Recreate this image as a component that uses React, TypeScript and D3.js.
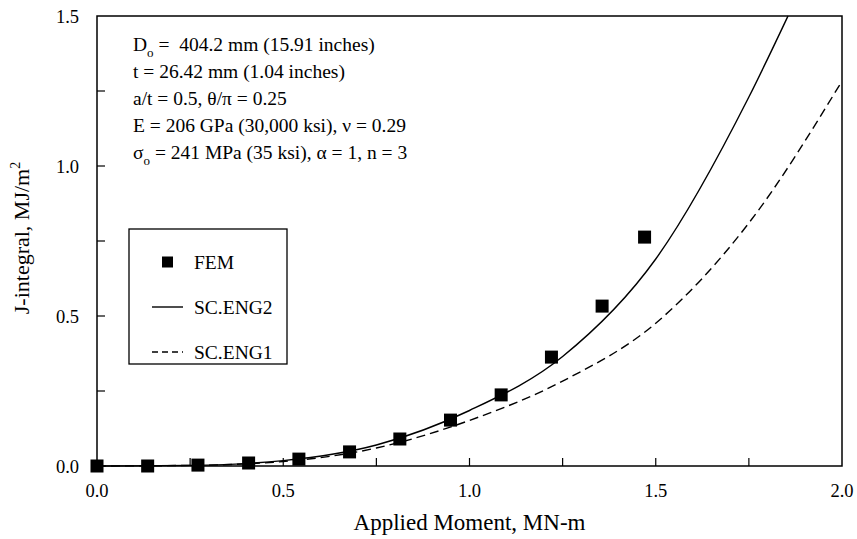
import { useEffect, useRef } from "react";
import * as d3 from "d3";

const femX = [0, 0.136, 0.271, 0.407, 0.542, 0.678, 0.813, 0.949, 1.085, 1.22, 1.356, 1.47];
const femJ = [0, 0, 0.003, 0.01, 0.023, 0.047, 0.09, 0.153, 0.237, 0.363, 0.533, 0.763];

const eng2X = [0, 0.25, 0.5, 0.75, 1.0, 1.25, 1.5, 1.75, 1.855];
const eng2J = [0, 0.002, 0.018, 0.07, 0.185, 0.365, 0.69, 1.23, 1.5];

const eng1X = [0, 0.25, 0.5, 0.75, 1.0, 1.25, 1.5, 1.75, 2.0];
const eng1J = [0, 0.002, 0.015, 0.06, 0.152, 0.283, 0.476, 0.81, 1.283];

const xTicks = [0, 0.5, 1.0, 1.5, 2.0];
const yTicks = [0, 0.5, 1.0, 1.5];
const xMinor = [0.25, 0.75, 1.25, 1.75];
const yMinor = [0.25, 0.75, 1.25];

const legendItems = ["FEM", "SC.ENG2", "SC.ENG1"];

const W = 857;
const H = 539;
const font = "'Liberation Serif', 'Times New Roman', serif";

export default function App() {
  const svgRef = useRef<SVGSVGElement>(null);

  useEffect(() => {
    const svg = d3.select(svgRef.current);
    svg.selectAll("*").remove();

    const left = 97, right = 842, top = 16, bottom = 466;
    const x = d3.scaleLinear().domain([0, 2]).range([left, right]);
    const y = d3.scaleLinear().domain([0, 1.5]).range([bottom, top]);

    const g = svg.append("g").attr("font-family", font);

    // frame
    g.append("rect")
      .attr("x", left).attr("y", top)
      .attr("width", right - left).attr("height", bottom - top)
      .attr("fill", "none").attr("stroke", "#000").attr("stroke-width", 1.5);

    // ticks point inward
    g.selectAll(".xt").data([...xTicks.slice(1, -1), ...xMinor]).join("line")
      .attr("x1", d => x(d)).attr("x2", d => x(d))
      .attr("y1", bottom).attr("y2", bottom - 8)
      .attr("stroke", "#000").attr("stroke-width", 1.2);
    g.selectAll(".xl").data(xTicks).join("text")
      .attr("x", d => x(d)).attr("y", bottom + 31)
      .attr("text-anchor", "middle")
      .attr("font-size", 18.5)
      .text(d => d.toFixed(1));

    g.selectAll(".yt").data([...yTicks.slice(1, -1), ...yMinor]).join("line")
      .attr("x1", left).attr("x2", left + 8)
      .attr("y1", d => y(d)).attr("y2", d => y(d))
      .attr("stroke", "#000").attr("stroke-width", 1.2);
    g.selectAll(".yl").data(yTicks).join("text")
      .attr("x", left - 18).attr("y", d => y(d) + 7)
      .attr("text-anchor", "end")
      .attr("font-size", 18.5)
      .text(d => d.toFixed(1));

    // axis titles
    g.append("text")
      .attr("x", (left + right) / 2).attr("y", 530)
      .attr("text-anchor", "middle")
      .attr("font-size", 23)
      .text("Applied Moment, MN-m");

    const yt = g.append("text")
      .attr("transform", `translate(29,238) rotate(-90)`)
      .attr("text-anchor", "middle")
      .attr("font-size", 22);
    yt.append("tspan").text("J-integral, MJ/m");
    yt.append("tspan").attr("font-size", 14).attr("dy", -9).text("2");

    // curves
    const line = d3.line<[number, number]>()
      .x(d => x(d[0])).y(d => y(d[1]))
      .curve(d3.curveMonotoneX);

    g.append("path")
      .attr("d", line(eng2X.map((v, i) => [v, eng2J[i]] as [number, number])))
      .attr("fill", "none").attr("stroke", "#000").attr("stroke-width", 1.4);

    g.append("path")
      .attr("d", line(eng1X.map((v, i) => [v, eng1J[i]] as [number, number])))
      .attr("fill", "none").attr("stroke", "#000").attr("stroke-width", 1.4)
      .attr("stroke-dasharray", "9,5");

    const sq = 13;
    g.selectAll(".fem").data(femX).join("rect")
      .attr("x", d => x(d) - sq / 2)
      .attr("y", (d, i) => y(femJ[i]) - sq / 2)
      .attr("width", sq).attr("height", sq)
      .attr("fill", "#000");

    // parameter text
    const tx = 133;
    const rows = [51, 78, 105, 132, 159];
    const fs = 19.5;
    const mk = (yy: number) => g.append("text").attr("x", tx).attr("y", yy)
      .attr("font-size", fs).style("white-space", "pre");

    const t0 = mk(rows[0]);
    t0.append("tspan").text("D");
    t0.append("tspan").attr("font-size", 13).attr("dy", 6).text("o");
    t0.append("tspan").attr("dy", -6).text(" =  404.2 mm (15.91 inches)");
    mk(rows[1]).text("t = 26.42 mm (1.04 inches)");
    mk(rows[2]).text("a/t = 0.5, \u03b8/\u03c0 = 0.25");
    mk(rows[3]).text("E = 206 GPa (30,000 ksi), \u03bd = 0.29");
    const t4 = mk(rows[4]);
    t4.append("tspan").text("\u03c3");
    t4.append("tspan").attr("font-size", 13).attr("dy", 6).text("o");
    t4.append("tspan").attr("dy", -6).text(" = 241 MPa (35 ksi), \u03b1 = 1, n = 3");

    // legend
    const lg = g.append("g");
    lg.append("rect")
      .attr("x", 129).attr("y", 229).attr("width", 158).attr("height", 135)
      .attr("fill", "#fff").attr("stroke", "#000").attr("stroke-width", 1.3);
    const rowY = [262, 307, 352];
    lg.append("rect")
      .attr("x", 162).attr("y", rowY[0] - 5.5).attr("width", 11).attr("height", 11).attr("fill", "#000");
    lg.append("line")
      .attr("x1", 152).attr("x2", 183).attr("y1", rowY[1]).attr("y2", rowY[1])
      .attr("stroke", "#000").attr("stroke-width", 1.4);
    lg.append("line")
      .attr("x1", 152).attr("x2", 183).attr("y1", rowY[2]).attr("y2", rowY[2])
      .attr("stroke", "#000").attr("stroke-width", 1.4).attr("stroke-dasharray", "6,4");
    lg.selectAll(".lt").data(legendItems).join("text")
      .attr("x", 194).attr("y", (d, i) => rowY[i] + 7)
      .attr("font-size", 19.5)
      .text(d => d);
  }, []);

  return (
    <svg
      ref={svgRef}
      width={W}
      height={H}
      style={{ position: "absolute", left: 0, top: 0, background: "#fff" }}
    />
  );
}
